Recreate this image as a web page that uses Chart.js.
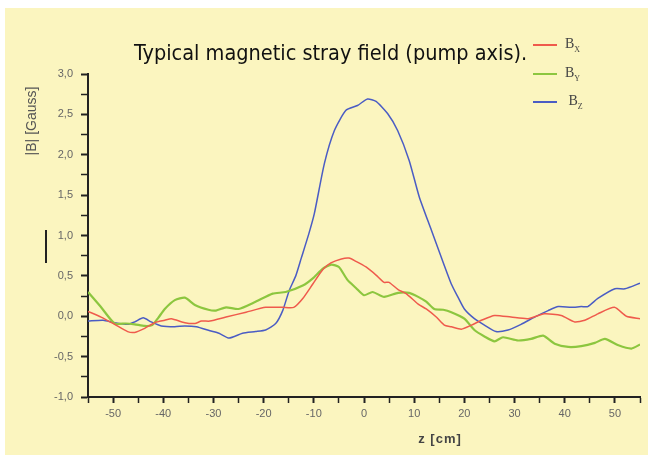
<!DOCTYPE html>
<html>
<head>
<meta charset="utf-8">
<script src="https://cdn.jsdelivr.net/npm/chart.js@4"></script>
<style>
  html, body { margin: 0; padding: 0; background: #fff; }
  #panel { position: absolute; left: 5px; top: 8px; width: 643px; height: 447px; background: #fbf5bf; }
  #wrap { position: absolute; left: 0; top: 0; width: 652px; height: 462px; }
  .txt { position: absolute; white-space: nowrap; }
  #title { left: 134px; top: 40px; font-family: "DejaVu Sans", sans-serif; font-stretch: condensed; font-size: 21.5px; color: #111; }
  #ylab { left: 31px; top: 121px; transform: translate(-50%, -50%) rotate(-90deg); font: 14px "Liberation Sans", Arial, sans-serif; color: #555; }
  #xlab { left: 440px; top: 438px; transform: translate(-50%, -50%); font: bold 13px "Liberation Sans", Arial, sans-serif; color: #444; letter-spacing: 1px; }
  #mark { position: absolute; left: 45px; top: 230px; width: 2px; height: 33px; background: #222; }
  .leg { position: absolute; left: 533px; font: 14px "Liberation Serif", serif; color: #444; }
  .leg i { display: inline-block; width: 24px; height: 2px; vertical-align: middle; margin-right: 8px; }
  .leg sub { font-size: 8px; }
</style>
</head>
<body>
<div id="panel"></div>
<div id="wrap"><canvas id="strayChart" width="652" height="462"></canvas></div>
<div class="txt" id="title">Typical magnetic stray field (pump axis).</div>
<div class="txt" id="ylab">|B| [Gauss]</div>
<div class="txt" id="xlab">z [cm]</div>
<div id="mark"></div>
<div class="leg" style="top:36px"><i style="background:#ef5a4c"></i>B<sub>X</sub></div>
<div class="leg" style="top:65px"><i style="background:#8cc63f"></i>B<sub>Y</sub></div>
<div class="leg" style="top:93px"><i style="background:#4a5cc4"></i>&nbsp;B<sub>Z</sub></div>
<script>
// z positions [cm] and field values [Gauss]
const bxZ = [-55, -52.4, -49.7, -47.1, -45.7, -43.7, -41.7, -39.7, -38.4, -35.7, -33.7, -32.4, -30.7, -27.5, -23.5, -19.6, -16.2, -14, -12.2, -10.2, -8.2, -6.6, -4.5, -3, -1.6, 0.4, 2.4, 4, 5, 6.8, 8.4, 10.8, 12.4, 14.4, 16, 17.4, 19.4, 21.4, 23.4, 26, 29.3, 32.7, 35.9, 39.3, 42, 44, 46.6, 49.9, 52.3, 55];
const bxB = [0.06, -0.01, -0.1, -0.19, -0.2, -0.15, -0.08, -0.05, -0.03, -0.08, -0.09, -0.06, -0.06, -0.01, 0.05, 0.11, 0.11, 0.11, 0.22, 0.4, 0.58, 0.66, 0.71, 0.72, 0.68, 0.61, 0.51, 0.42, 0.42, 0.33, 0.28, 0.15, 0.09, -0.01, -0.11, -0.13, -0.16, -0.11, -0.05, 0.01, -0.01, -0.03, 0.03, 0.01, -0.07, -0.05, 0.03, 0.11, 0.0, -0.03];

const byZ = [-55, -52.5, -49.7, -47.5, -45.7, -43.7, -42.2, -41, -39.7, -37.7, -35.7, -33.7, -31, -29.5, -27.5, -25, -21.6, -18.2, -15.6, -12.2, -10.2, -8.2, -6.5, -5, -3.3, -1.6, 0, 1.7, 4, 6.8, 9, 10.8, 12.4, 14, 15.8, 17.4, 20, 22, 24, 26, 27.7, 30.7, 33.3, 35.7, 38, 40.7, 43.3, 46, 48, 50.7, 53.3, 55];
const byB = [0.3, 0.12, -0.09, -0.09, -0.1, -0.12, -0.11, -0.02, 0.09, 0.2, 0.23, 0.14, 0.08, 0.07, 0.11, 0.09, 0.18, 0.28, 0.3, 0.38, 0.47, 0.59, 0.64, 0.61, 0.45, 0.35, 0.26, 0.3, 0.24, 0.29, 0.29, 0.24, 0.18, 0.09, 0.08, 0.05, -0.03, -0.17, -0.25, -0.31, -0.26, -0.3, -0.28, -0.24, -0.34, -0.38, -0.37, -0.33, -0.28, -0.36, -0.4, -0.35];

const bzZ = [-55, -52, -49.7, -47, -45.7, -44, -42.4, -40.4, -37.7, -35.7, -33.4, -30.7, -28.9, -26.9, -24.2, -21.6, -19.6, -17.6, -16.2, -14.9, -13.6, -12.5, -11, -9.9, -7.9, -5.9, -3.6, -1.3, 0.7, 2.4, 4.7, 6.7, 9, 11, 13.4, 15.4, 17.4, 18.7, 20, 22, 24, 26.3, 28.7, 31.3, 34, 36.7, 38.7, 41.3, 43.3, 44.6, 46.6, 50, 52, 55];
const bzB = [-0.06, -0.05, -0.08, -0.1, -0.07, -0.02, -0.07, -0.12, -0.13, -0.12, -0.13, -0.18, -0.21, -0.27, -0.21, -0.19, -0.17, -0.09, 0.07, 0.32, 0.5, 0.72, 1.02, 1.27, 1.89, 2.3, 2.55, 2.61, 2.69, 2.66, 2.51, 2.3, 1.93, 1.48, 1.07, 0.73, 0.4, 0.24, 0.09, -0.03, -0.11, -0.19, -0.17, -0.1, -0.01, 0.07, 0.12, 0.11, 0.12, 0.12, 0.22, 0.34, 0.34, 0.41];

const xMin = -55, xMax = 55, xStep = 5;
const yMin = -1, yMax = 3, yStep = 0.25;

const toPoints = (zs, bs) => zs.map((z, i) => ({ x: z, y: bs[i] }));

const axisColor = '#222';
const tickFont = { family: '"Liberation Sans", Arial, sans-serif', size: 11 };

new Chart(document.getElementById('strayChart'), {
    type: 'line',
    data: {
        datasets: [{
            label: 'Bx', data: toPoints(bxZ, bxB),
            borderColor: '#ef5a4c', borderWidth: 1.5, pointRadius: 0, tension: 0.2
        }, {
            label: 'By', data: toPoints(byZ, byB),
            borderColor: '#8cc63f', borderWidth: 2.2, pointRadius: 0, tension: 0.2
        }, {
            label: 'Bz', data: toPoints(bzZ, bzB),
            borderColor: '#4a5cc4', borderWidth: 1.5, pointRadius: 0, tension: 0.2
        }]
    },
    options: {
        responsive: false,
        animation: false,
        layout: { padding: { top: 74, right: 12, left: 0, bottom: 0 } },
        plugins: { legend: { display: false }, tooltip: { enabled: false } },
        scales: {
            x: {
                type: 'linear', min: xMin, max: xMax,
                afterFit: (s) => { s.height = 65; },
                border: { color: axisColor, width: 2 },
                grid: {
                    drawOnChartArea: false, tickLength: 6, tickColor: axisColor,
                    tickWidth: (c) => (c.tick && c.tick.value % 10 === 0 ? 2 : 1.5)
                },
                ticks: {
                    stepSize: xStep, autoSkip: false, maxRotation: 0, padding: 4,
                    color: '#666', font: tickFont,
                    callback: (v) => (v % 10 === 0 ? String(v) : '')
                }
            },
            y: {
                type: 'linear', min: yMin, max: yMax,
                afterFit: (s) => { s.width = 88; },
                border: { color: axisColor, width: 2 },
                grid: {
                    drawOnChartArea: false, tickLength: 7, tickColor: axisColor,
                    tickWidth: (c) => (c.tick && Math.abs(c.tick.value * 2 % 1) < 1e-9 ? 2 : 1.5)
                },
                ticks: {
                    stepSize: yStep, autoSkip: false, padding: 8,
                    color: '#666', font: tickFont,
                    callback: (v) => (Math.abs(v * 2 % 1) < 1e-9 ? v.toFixed(1).replace('.', ',') : '')
                }
            }
        }
    }
});
</script>
</body>
</html>
